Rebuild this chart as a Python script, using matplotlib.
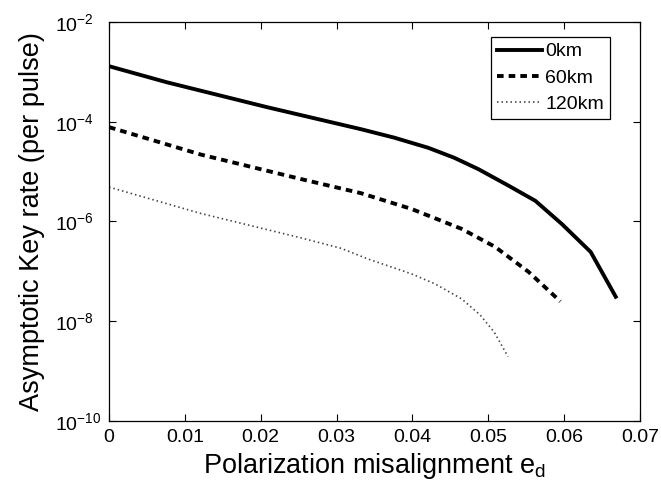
import matplotlib
matplotlib.use("Agg")
import matplotlib.pyplot as plt
from matplotlib.ticker import FixedLocator, FixedFormatter

plt.rcParams['font.family'] = ['Liberation Sans', 'DejaVu Sans']
plt.rcParams['mathtext.fontset'] = 'custom'
plt.rcParams['mathtext.rm'] = 'Liberation Sans'
plt.rcParams['mathtext.it'] = 'Liberation Sans'
plt.rcParams['mathtext.default'] = 'regular'

# Data
ed_0km = [0, 0.0076, 0.0209, 0.0332, 0.0376, 0.0421, 0.0455, 0.0487, 0.0527, 0.0562, 0.0597, 0.0635, 0.0668]
rate_0km = [1.3e-3, 6.2e-4, 1.95e-4, 7.1e-5, 4.8e-5, 3.0e-5, 1.9e-5, 1.12e-5, 5.2e-6, 2.6e-6, 8.9e-7, 2.45e-7, 3.1e-8]

ed_60km = [0, 0.0121, 0.0253, 0.0332, 0.0399, 0.0465, 0.0509, 0.0553, 0.0595]
rate_60km = [7.8e-5, 2.2e-5, 7.1e-6, 3.7e-6, 1.78e-6, 7.1e-7, 3.1e-7, 9.8e-8, 2.5e-8]

ed_120km = [0, 0.0121, 0.0253, 0.0306, 0.0341, 0.0399, 0.043, 0.0465, 0.0489, 0.0508, 0.0526]
rate_120km = [4.9e-6, 1.45e-6, 4.7e-7, 2.9e-7, 1.78e-7, 8.9e-8, 5.6e-8, 2.8e-8, 1.35e-8, 6.0e-9, 1.95e-9]

labels = ['0km', '60km', '120km']
xticks = [0, 0.01, 0.02, 0.03, 0.04, 0.05, 0.06, 0.07]
xticklabels = ['0', '0.01', '0.02', '0.03', '0.04', '0.05', '0.06', '0.07']
yticks = [1e-10, 1e-8, 1e-6, 1e-4, 1e-2]
yticklabels = ['$10^{-10}$', '$10^{-8}$', '$10^{-6}$', '$10^{-4}$', '$10^{-2}$']

W, H = 661, 494
fig = plt.figure(figsize=(W / 100, H / 100), dpi=100)
ax = fig.add_axes([109 / W, 1 - 421 / H, (640 - 109) / W, (421 - 22) / H])

ax.plot(ed_0km, rate_0km, color='black', lw=2.8, ls='-', label=labels[0])
ax.plot(ed_60km, rate_60km, color='black', lw=2.8, ls=(0, (1.7, 1.3)), label=labels[1])
ax.plot(ed_120km, rate_120km, color='#444444', lw=1.2, ls=(0, (0.9, 1.8)), label=labels[2])

ax.set_yscale('log')
ax.set_xlim(0, 0.07)
ax.set_ylim(1e-10, 1e-2)
ax.xaxis.set_major_locator(FixedLocator(xticks))
ax.xaxis.set_major_formatter(FixedFormatter(xticklabels))
ax.yaxis.set_major_locator(FixedLocator(yticks))
ax.yaxis.set_major_formatter(FixedFormatter(yticklabels))
ax.yaxis.set_minor_locator(FixedLocator([]))
ax.tick_params(which='both', direction='in', top=True, right=True, length=5,
               width=0.8, labelsize=14)
ax.tick_params(axis='x', pad=6)
ax.tick_params(axis='y', pad=(109 - 55) / 100 * 72)
for lbl in ax.get_yticklabels():
    lbl.set_horizontalalignment('left')
for s in ax.spines.values():
    s.set_linewidth(0.9)

ax.set_xlabel('Polarization misalignment e$_d$', fontsize=19.5, labelpad=3)
ax.set_ylabel('Asymptotic Key rate (per pulse)', fontsize=19.5, labelpad=7)

leg = ax.legend(loc='upper right', bbox_to_anchor=((610 - 109) / 531, (421 - 37) / 399),
                fontsize=14, frameon=True, fancybox=False,
                edgecolor='black', framealpha=1, handlelength=2.3,
                handletextpad=0.2, borderpad=0.3, labelspacing=0.45,
                borderaxespad=0.0)
leg.get_frame().set_linewidth(0.9)

fig.savefig('out.png', dpi=100)
